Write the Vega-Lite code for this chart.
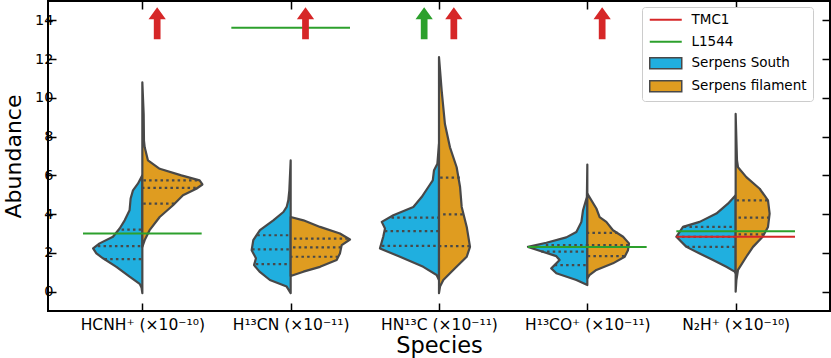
{
  "$schema": "https://vega.github.io/schema/vega-lite/v6.json",
  "width": 782,
  "height": 310,
  "autosize": {"type": "none"},
  "padding": {"left": 48, "top": 1, "right": 1, "bottom": 47},
  "config": {
    "font": "DejaVu Sans",
    "view": {"stroke": "black", "strokeWidth": 2},
    "axis": {"grid": false, "domain": false, "tickColor": "black", "tickWidth": 1.5, "tickSize": -8, "labelColor": "black", "titleColor": "black", "labelFont": "DejaVu Sans", "titleFont": "DejaVu Sans", "titleFontWeight": "normal", "labelFontSize": 14.5, "titleFontSize": 22.5},
    "legend": {"labelFont": "DejaVu Sans", "labelFontSize": 13.5, "labelColor": "black", "symbolSize": 100, "labelOffset": 30, "padding": 6}
  },
  "datasets": {
    "species": [
      {"sp": "HCNH+", "i": 0}, {"sp": "H13CN", "i": 1}, {"sp": "HN13C", "i": 2}, {"sp": "H13CO+", "i": 3}, {"sp": "N2H+", "i": 4}
    ],
    "violin": [
      {"sp": "HCNH+", "side": "Serpens South", "y": -0.08, "x": 0},
      {"sp": "HCNH+", "side": "Serpens South", "y": 0.2, "x": -0.005},
      {"sp": "HCNH+", "side": "Serpens South", "y": 0.4, "x": -0.018},
      {"sp": "HCNH+", "side": "Serpens South", "y": 0.77, "x": -0.086},
      {"sp": "HCNH+", "side": "Serpens South", "y": 1.28, "x": -0.175},
      {"sp": "HCNH+", "side": "Serpens South", "y": 1.72, "x": -0.265},
      {"sp": "HCNH+", "side": "Serpens South", "y": 1.97, "x": -0.31},
      {"sp": "HCNH+", "side": "Serpens South", "y": 2.23, "x": -0.332},
      {"sp": "HCNH+", "side": "Serpens South", "y": 2.49, "x": -0.288},
      {"sp": "HCNH+", "side": "Serpens South", "y": 2.83, "x": -0.198},
      {"sp": "HCNH+", "side": "Serpens South", "y": 3.26, "x": -0.153},
      {"sp": "HCNH+", "side": "Serpens South", "y": 3.68, "x": -0.119},
      {"sp": "HCNH+", "side": "Serpens South", "y": 4.2, "x": -0.086},
      {"sp": "HCNH+", "side": "Serpens South", "y": 4.8, "x": -0.079},
      {"sp": "HCNH+", "side": "Serpens South", "y": 5.23, "x": -0.063},
      {"sp": "HCNH+", "side": "Serpens South", "y": 5.57, "x": -0.03},
      {"sp": "HCNH+", "side": "Serpens South", "y": 6.0, "x": 0},
      {"sp": "HCNH+", "side": "Serpens filament", "y": 2.31, "x": 0},
      {"sp": "HCNH+", "side": "Serpens filament", "y": 2.66, "x": 0.016},
      {"sp": "HCNH+", "side": "Serpens filament", "y": 3.17, "x": 0.049},
      {"sp": "HCNH+", "side": "Serpens filament", "y": 3.85, "x": 0.117},
      {"sp": "HCNH+", "side": "Serpens filament", "y": 4.46, "x": 0.207},
      {"sp": "HCNH+", "side": "Serpens filament", "y": 4.97, "x": 0.274},
      {"sp": "HCNH+", "side": "Serpens filament", "y": 5.31, "x": 0.364},
      {"sp": "HCNH+", "side": "Serpens filament", "y": 5.53, "x": 0.405},
      {"sp": "HCNH+", "side": "Serpens filament", "y": 5.74, "x": 0.386},
      {"sp": "HCNH+", "side": "Serpens filament", "y": 6.0, "x": 0.263},
      {"sp": "HCNH+", "side": "Serpens filament", "y": 6.34, "x": 0.117},
      {"sp": "HCNH+", "side": "Serpens filament", "y": 6.77, "x": 0.038},
      {"sp": "HCNH+", "side": "Serpens filament", "y": 7.45, "x": 0.016},
      {"sp": "HCNH+", "side": "Serpens filament", "y": 7.8, "x": 0.011},
      {"sp": "HCNH+", "side": "Serpens filament", "y": 9.17, "x": 0.009},
      {"sp": "HCNH+", "side": "Serpens filament", "y": 10.8, "x": 0},
      {"sp": "H13CN", "side": "Serpens South", "y": -0.08, "x": 1},
      {"sp": "H13CN", "side": "Serpens South", "y": 0.26, "x": 0.973},
      {"sp": "H13CN", "side": "Serpens South", "y": 0.6, "x": 0.86},
      {"sp": "H13CN", "side": "Serpens South", "y": 1.03, "x": 0.79},
      {"sp": "H13CN", "side": "Serpens South", "y": 1.37, "x": 0.753},
      {"sp": "H13CN", "side": "Serpens South", "y": 1.72, "x": 0.766},
      {"sp": "H13CN", "side": "Serpens South", "y": 2.14, "x": 0.737},
      {"sp": "H13CN", "side": "Serpens South", "y": 2.66, "x": 0.748},
      {"sp": "H13CN", "side": "Serpens South", "y": 3.17, "x": 0.793},
      {"sp": "H13CN", "side": "Serpens South", "y": 3.68, "x": 0.883},
      {"sp": "H13CN", "side": "Serpens South", "y": 4.11, "x": 0.951},
      {"sp": "H13CN", "side": "Serpens South", "y": 4.37, "x": 0.973},
      {"sp": "H13CN", "side": "Serpens South", "y": 4.71, "x": 0.984},
      {"sp": "H13CN", "side": "Serpens South", "y": 5.23, "x": 0.991},
      {"sp": "H13CN", "side": "Serpens South", "y": 6.77, "x": 1},
      {"sp": "H13CN", "side": "Serpens filament", "y": 0.81, "x": 1},
      {"sp": "H13CN", "side": "Serpens filament", "y": 1.03, "x": 1.086},
      {"sp": "H13CN", "side": "Serpens filament", "y": 1.28, "x": 1.198},
      {"sp": "H13CN", "side": "Serpens filament", "y": 1.63, "x": 1.31},
      {"sp": "H13CN", "side": "Serpens filament", "y": 1.97, "x": 1.332},
      {"sp": "H13CN", "side": "Serpens filament", "y": 2.4, "x": 1.344},
      {"sp": "H13CN", "side": "Serpens filament", "y": 2.69, "x": 1.4},
      {"sp": "H13CN", "side": "Serpens filament", "y": 3.0, "x": 1.332},
      {"sp": "H13CN", "side": "Serpens filament", "y": 3.34, "x": 1.198},
      {"sp": "H13CN", "side": "Serpens filament", "y": 3.68, "x": 1.086},
      {"sp": "H13CN", "side": "Serpens filament", "y": 3.85, "x": 1},
      {"sp": "HN13C", "side": "Serpens South", "y": 0.6, "x": 2},
      {"sp": "HN13C", "side": "Serpens South", "y": 0.86, "x": 1.984},
      {"sp": "HN13C", "side": "Serpens South", "y": 1.28, "x": 1.894},
      {"sp": "HN13C", "side": "Serpens South", "y": 1.8, "x": 1.737},
      {"sp": "HN13C", "side": "Serpens South", "y": 2.23, "x": 1.602},
      {"sp": "HN13C", "side": "Serpens South", "y": 2.83, "x": 1.624},
      {"sp": "HN13C", "side": "Serpens South", "y": 3.26, "x": 1.636},
      {"sp": "HN13C", "side": "Serpens South", "y": 3.6, "x": 1.614},
      {"sp": "HN13C", "side": "Serpens South", "y": 3.94, "x": 1.692},
      {"sp": "HN13C", "side": "Serpens South", "y": 4.37, "x": 1.827},
      {"sp": "HN13C", "side": "Serpens South", "y": 4.88, "x": 1.883},
      {"sp": "HN13C", "side": "Serpens South", "y": 5.4, "x": 1.928},
      {"sp": "HN13C", "side": "Serpens South", "y": 5.74, "x": 1.958},
      {"sp": "HN13C", "side": "Serpens South", "y": 6.25, "x": 1.966},
      {"sp": "HN13C", "side": "Serpens South", "y": 6.6, "x": 1.989},
      {"sp": "HN13C", "side": "Serpens South", "y": 7.63, "x": 2},
      {"sp": "HN13C", "side": "Serpens filament", "y": -0.08, "x": 2},
      {"sp": "HN13C", "side": "Serpens filament", "y": 0.26, "x": 2.007},
      {"sp": "HN13C", "side": "Serpens filament", "y": 0.6, "x": 2.029},
      {"sp": "HN13C", "side": "Serpens filament", "y": 1.12, "x": 2.096},
      {"sp": "HN13C", "side": "Serpens filament", "y": 1.8, "x": 2.187},
      {"sp": "HN13C", "side": "Serpens filament", "y": 2.31, "x": 2.209},
      {"sp": "HN13C", "side": "Serpens filament", "y": 3.34, "x": 2.187},
      {"sp": "HN13C", "side": "Serpens filament", "y": 4.37, "x": 2.153},
      {"sp": "HN13C", "side": "Serpens filament", "y": 5.4, "x": 2.142},
      {"sp": "HN13C", "side": "Serpens filament", "y": 6.42, "x": 2.119},
      {"sp": "HN13C", "side": "Serpens filament", "y": 7.45, "x": 2.074},
      {"sp": "HN13C", "side": "Serpens filament", "y": 8.65, "x": 2.04},
      {"sp": "HN13C", "side": "Serpens filament", "y": 10.37, "x": 2.018},
      {"sp": "HN13C", "side": "Serpens filament", "y": 12.1, "x": 2},
      {"sp": "H13CO+", "side": "Serpens South", "y": 0.34, "x": 3},
      {"sp": "H13CO+", "side": "Serpens South", "y": 0.6, "x": 2.926},
      {"sp": "H13CO+", "side": "Serpens South", "y": 0.95, "x": 2.791},
      {"sp": "H13CO+", "side": "Serpens South", "y": 1.2, "x": 2.757},
      {"sp": "H13CO+", "side": "Serpens South", "y": 1.63, "x": 2.813},
      {"sp": "H13CO+", "side": "Serpens South", "y": 1.83, "x": 2.791},
      {"sp": "H13CO+", "side": "Serpens South", "y": 2.11, "x": 2.678},
      {"sp": "H13CO+", "side": "Serpens South", "y": 2.31, "x": 2.6},
      {"sp": "H13CO+", "side": "Serpens South", "y": 2.52, "x": 2.724},
      {"sp": "H13CO+", "side": "Serpens South", "y": 2.8, "x": 2.858},
      {"sp": "H13CO+", "side": "Serpens South", "y": 3.08, "x": 2.926},
      {"sp": "H13CO+", "side": "Serpens South", "y": 3.6, "x": 2.96},
      {"sp": "H13CO+", "side": "Serpens South", "y": 4.2, "x": 2.971},
      {"sp": "H13CO+", "side": "Serpens South", "y": 4.88, "x": 2.997},
      {"sp": "H13CO+", "side": "Serpens South", "y": 6.56, "x": 3},
      {"sp": "H13CO+", "side": "Serpens filament", "y": 0.69, "x": 3},
      {"sp": "H13CO+", "side": "Serpens filament", "y": 0.86, "x": 3.016},
      {"sp": "H13CO+", "side": "Serpens filament", "y": 1.12, "x": 3.061},
      {"sp": "H13CO+", "side": "Serpens filament", "y": 1.46, "x": 3.173},
      {"sp": "H13CO+", "side": "Serpens filament", "y": 1.8, "x": 3.252},
      {"sp": "H13CO+", "side": "Serpens filament", "y": 2.14, "x": 3.274},
      {"sp": "H13CO+", "side": "Serpens filament", "y": 2.49, "x": 3.281},
      {"sp": "H13CO+", "side": "Serpens filament", "y": 2.83, "x": 3.241},
      {"sp": "H13CO+", "side": "Serpens filament", "y": 3.17, "x": 3.173},
      {"sp": "H13CO+", "side": "Serpens filament", "y": 3.6, "x": 3.128},
      {"sp": "H13CO+", "side": "Serpens filament", "y": 3.85, "x": 3.083},
      {"sp": "H13CO+", "side": "Serpens filament", "y": 4.29, "x": 3.061},
      {"sp": "H13CO+", "side": "Serpens filament", "y": 5.06, "x": 3},
      {"sp": "N2H+", "side": "Serpens South", "y": 0.95, "x": 4},
      {"sp": "N2H+", "side": "Serpens South", "y": 1.03, "x": 3.993},
      {"sp": "N2H+", "side": "Serpens South", "y": 1.28, "x": 3.937},
      {"sp": "N2H+", "side": "Serpens South", "y": 1.63, "x": 3.847},
      {"sp": "N2H+", "side": "Serpens South", "y": 1.97, "x": 3.757},
      {"sp": "N2H+", "side": "Serpens South", "y": 2.31, "x": 3.668},
      {"sp": "N2H+", "side": "Serpens South", "y": 2.83, "x": 3.6},
      {"sp": "N2H+", "side": "Serpens South", "y": 3.34, "x": 3.645},
      {"sp": "N2H+", "side": "Serpens South", "y": 3.6, "x": 3.757},
      {"sp": "N2H+", "side": "Serpens South", "y": 4.03, "x": 3.87},
      {"sp": "N2H+", "side": "Serpens South", "y": 4.54, "x": 3.948},
      {"sp": "N2H+", "side": "Serpens South", "y": 4.97, "x": 4},
      {"sp": "N2H+", "side": "Serpens filament", "y": 0.0, "x": 4},
      {"sp": "N2H+", "side": "Serpens filament", "y": 0.6, "x": 4.005},
      {"sp": "N2H+", "side": "Serpens filament", "y": 1.12, "x": 4.016},
      {"sp": "N2H+", "side": "Serpens filament", "y": 1.8, "x": 4.072},
      {"sp": "N2H+", "side": "Serpens filament", "y": 2.31, "x": 4.117},
      {"sp": "N2H+", "side": "Serpens filament", "y": 2.83, "x": 4.182},
      {"sp": "N2H+", "side": "Serpens filament", "y": 3.34, "x": 4.218},
      {"sp": "N2H+", "side": "Serpens filament", "y": 4.03, "x": 4.229},
      {"sp": "N2H+", "side": "Serpens filament", "y": 4.71, "x": 4.218},
      {"sp": "N2H+", "side": "Serpens filament", "y": 5.31, "x": 4.162},
      {"sp": "N2H+", "side": "Serpens filament", "y": 5.91, "x": 4.072},
      {"sp": "N2H+", "side": "Serpens filament", "y": 6.42, "x": 4.016},
      {"sp": "N2H+", "side": "Serpens filament", "y": 6.77, "x": 4.009},
      {"sp": "N2H+", "side": "Serpens filament", "y": 9.17, "x": 4}
    ],
    "quartiles": [
      {"sp": "HCNH+", "side": "Serpens South", "q": 3.2, "x": -0.14},
      {"sp": "HCNH+", "side": "Serpens South", "q": 2.35, "x": -0.3},
      {"sp": "HCNH+", "side": "Serpens South", "q": 1.68, "x": -0.255},
      {"sp": "HCNH+", "side": "Serpens filament", "q": 5.74, "x": 0.37},
      {"sp": "HCNH+", "side": "Serpens filament", "q": 5.35, "x": 0.36},
      {"sp": "HCNH+", "side": "Serpens filament", "q": 4.54, "x": 0.215},
      {"sp": "H13CN", "side": "Serpens South", "q": 2.91, "x": 0.775},
      {"sp": "H13CN", "side": "Serpens South", "q": 2.18, "x": 0.74},
      {"sp": "H13CN", "side": "Serpens South", "q": 1.42, "x": 0.765},
      {"sp": "H13CN", "side": "Serpens filament", "q": 2.74, "x": 1.385},
      {"sp": "H13CN", "side": "Serpens filament", "q": 2.28, "x": 1.34},
      {"sp": "H13CN", "side": "Serpens filament", "q": 1.8, "x": 1.32},
      {"sp": "HN13C", "side": "Serpens South", "q": 3.82, "x": 1.68},
      {"sp": "HN13C", "side": "Serpens South", "q": 3.12, "x": 1.635},
      {"sp": "HN13C", "side": "Serpens South", "q": 2.36, "x": 1.615},
      {"sp": "HN13C", "side": "Serpens filament", "q": 5.88, "x": 2.14},
      {"sp": "HN13C", "side": "Serpens filament", "q": 3.99, "x": 2.16},
      {"sp": "HN13C", "side": "Serpens filament", "q": 2.35, "x": 2.208},
      {"sp": "H13CO+", "side": "Serpens South", "q": 2.4, "x": 2.72},
      {"sp": "H13CO+", "side": "Serpens South", "q": 2.06, "x": 2.69},
      {"sp": "H13CO+", "side": "Serpens South", "q": 1.37, "x": 2.78},
      {"sp": "H13CO+", "side": "Serpens filament", "q": 3.03, "x": 3.205},
      {"sp": "H13CO+", "side": "Serpens filament", "q": 2.4, "x": 3.278},
      {"sp": "H13CO+", "side": "Serpens filament", "q": 1.83, "x": 3.25},
      {"sp": "N2H+", "side": "Serpens South", "q": 3.34, "x": 3.65},
      {"sp": "N2H+", "side": "Serpens South", "q": 2.83, "x": 3.6},
      {"sp": "N2H+", "side": "Serpens South", "q": 2.31, "x": 3.67},
      {"sp": "N2H+", "side": "Serpens filament", "q": 4.71, "x": 4.215},
      {"sp": "N2H+", "side": "Serpens filament", "q": 3.82, "x": 4.228},
      {"sp": "N2H+", "side": "Serpens filament", "q": 2.95, "x": 4.19}
    ],
    "refs": [
      {"src": "TMC1", "v": 2.83, "lo": 3.6, "hi": 4.4},
      {"src": "L1544", "v": 3.0, "lo": -0.4, "hi": 0.4},
      {"src": "L1544", "v": 13.62, "lo": 0.6, "hi": 1.4},
      {"src": "L1544", "v": 2.3, "lo": 2.6, "hi": 3.4},
      {"src": "L1544", "v": 3.12, "lo": 3.6, "hi": 4.4}
    ],
    "limits": [
      {"src": "TMC1", "x": 0.1, "y": 13.85},
      {"src": "TMC1", "x": 1.1, "y": 13.85},
      {"src": "TMC1", "x": 2.1, "y": 13.85},
      {"src": "TMC1", "x": 3.1, "y": 13.85},
      {"src": "L1544", "x": 1.9, "y": 13.85}
    ]
  },
  "resolve": {"axis": {"x": "independent", "y": "independent"}},
  "layer": [
    {
      "data": {"name": "violin"},
      "transform": [{"lookup": "sp", "from": {"data": {"name": "species"}, "key": "sp", "fields": ["i"]}}],
      "mark": {"type": "area", "orient": "horizontal", "stroke": "#484848", "strokeWidth": 2.2, "strokeJoin": "round", "opacity": 1},
      "encoding": {
        "y": {"field": "y", "type": "quantitative", "scale": {"domain": [-1, 15], "nice": false, "zero": false},
          "axis": {"orient": "left", "values": [0, 2, 4, 6, 8, 10, 12, 14], "labelPadding": 3, "title": "Abundance", "titleFontSize": 22, "titleX": -28, "titleY": 155, "titleAngle": 270, "titleBaseline": "alphabetic", "titleAlign": "center"}},
        "x": {"field": "x", "type": "quantitative", "scale": {"domain": [-0.636, 4.636], "nice": false, "zero": false},
          "axis": {"orient": "bottom", "values": [0, 1, 2, 3, 4], "labelPadding": 14, "labelFontSize": 15.5,
            "labelExpr": "['HCNH⁺ (×10⁻¹⁰)', 'H¹³CN (×10⁻¹¹)', 'HN¹³C (×10⁻¹¹)', 'H¹³CO⁺ (×10⁻¹¹)', 'N₂H⁺ (×10⁻¹⁰)'][datum.value]",
            "title": "Species", "titleX": 391, "titleY": 41.5, "titleBaseline": "alphabetic"}},
        "x2": {"field": "i"},
        "detail": {"field": "sp"},
        "fill": {"field": "side", "type": "nominal",
          "scale": {"domain": ["Serpens South", "Serpens filament"], "range": ["#20afdf", "#df9c20"]},
          "legend": {"title": " ", "titleFontSize": 13.5, "titlePadding": 30, "orient": "none", "legendX": 594, "legendY": 6,
            "strokeColor": "#cccccc", "fillColor": "white", "cornerRadius": 3, "rowPadding": 4.9,
            "symbolType": "M-1,-1.1H5.4V1.1H-1Z", "symbolStrokeColor": "#484848", "symbolStrokeWidth": 1.5}
        }
      }
    },
    {
      "data": {"name": "quartiles"},
      "transform": [{"lookup": "sp", "from": {"data": {"name": "species"}, "key": "sp", "fields": ["i"]}}],
      "mark": {"type": "rule", "color": "#484848", "strokeWidth": 2.2, "strokeDash": [2.5, 3.2]},
      "encoding": {
        "y": {"field": "q", "type": "quantitative", "axis": null},
        "x": {"field": "x", "type": "quantitative", "axis": null},
        "x2": {"field": "i"}
      }
    },
    {
      "data": {"name": "refs"},
      "mark": {"type": "rule", "strokeWidth": 2},
      "encoding": {
        "y": {"field": "v", "type": "quantitative", "axis": {"orient": "right", "values": [0, 2, 4, 6, 8, 10, 12, 14], "labels": false, "title": null}},
        "x": {"field": "lo", "type": "quantitative", "axis": {"orient": "top", "values": [0, 1, 2, 3, 4], "labels": false, "title": null}},
        "x2": {"field": "hi"},
        "stroke": {"field": "src", "type": "nominal",
          "scale": {"domain": ["TMC1", "L1544"], "range": ["#d62728", "#2ca02c"]},
          "legend": {"title": null, "orient": "none", "legendX": 594, "legendY": 6, "rowPadding": 6.9,
            "symbolType": "M-1,0H5.4", "symbolStrokeWidth": 2}
        }
      }
    },
    {
      "data": {"name": "limits"},
      "mark": {"type": "point", "filled": true, "opacity": 1, "size": 1024, "strokeWidth": 0, "shape": "M0,-1L0.54,-0.25L0.21,-0.25L0.21,1L-0.21,1L-0.21,-0.25L-0.54,-0.25Z"},
      "encoding": {
        "y": {"field": "y", "type": "quantitative", "axis": null},
        "x": {"field": "x", "type": "quantitative", "axis": null},
        "color": {"field": "src", "type": "nominal", "scale": {"domain": ["TMC1", "L1544"], "range": ["#d62728", "#2ca02c"]}, "legend": null}
      }
    }
  ]
}
